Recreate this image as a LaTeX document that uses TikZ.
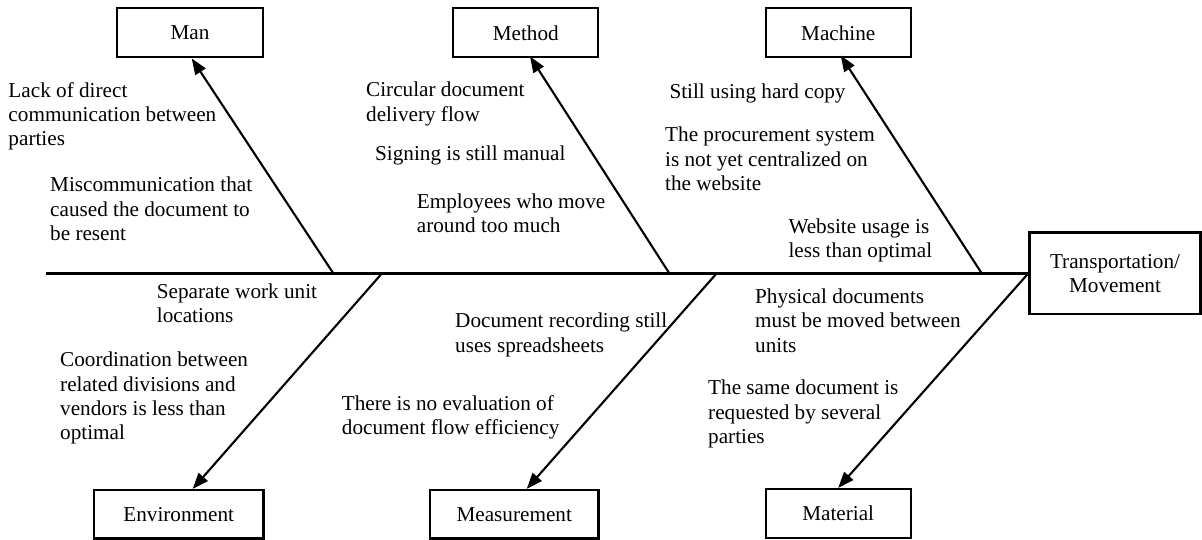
\documentclass[tikz,border=0pt]{standalone}
\usepackage{fontspec}
\setmainfont{Liberation Serif}
\usetikzlibrary{arrows.meta,positioning}
\begin{document}
\begin{tikzpicture}[x=1pt,y=-1pt,
  every node/.style={font=\fontsize{21.2}{24.3}\selectfont},
  cbox/.style={draw,line width=2.3pt,minimum height=49pt,inner sep=0pt,align=center},
  cause/.style={anchor=north west,inner sep=0pt,align=left},
  spine/.style={line width=2.4pt},
  bone/.style={line width=2.1pt,-{Triangle[length=16pt,width=12pt]}}]
\useasboundingbox (0,0) rectangle (1202,539);
% category boxes
\node[cbox,minimum width=145.4pt] (man) at (190,32.8) {Man};
\node[cbox,minimum width=145pt] (method) at (525.8,32.8) {Method};
\node[cbox,minimum width=145.3pt] (machine) at (838.3,32.8) {Machine};
\node[cbox,minimum width=169.3pt,minimum height=48.3pt] (env) at (178.7,514.2) {Environment};
\node[cbox,minimum width=168.3pt,minimum height=48.3pt] (meas) at (514.2,514.2) {Measurement};
\node[cbox,minimum width=145pt] (mat) at (838.2,513.5) {Material};
\node[cbox,minimum width=171pt,minimum height=81.7pt] (trans) at (1115,273.3) {Transportation/\\Movement};
% spine
\coordinate (tail) at (46,273.3);
\draw[spine] (tail) -- (trans.west);
% bone roots on spine
\coordinate (r1) at (333.3,273.3);
\coordinate (r2) at (669.3,273.3);
\coordinate (r3) at (981.7,273.3);
\coordinate (r4) at (382,273.3);
\coordinate (r5) at (716.7,273.3);
% bones
\draw[bone] (r1) -- ([xshift=1.7pt]man.south);
\draw[bone] (r2) -- ([xshift=4.2pt,yshift=2pt]method.south);
\draw[bone] (r3) -- ([xshift=2.4pt,yshift=3pt]machine.south);
\draw[bone] (r4) -- ([xshift=14pt]env.north);
\draw[bone] (r5) -- ([xshift=12.5pt]meas.north);
\draw[bone] (trans.west) -- (mat.north);
% causes
\node[cause] (c1) at (8.3,82) {Lack of direct\\communication between\\parties};
\node[cause] (c2) at (50,177) {Miscommunication that\\caused the document to\\be resent};
\node[cause] (c3) at (366,82) {Circular document\\delivery flow};
\node[cause] (c4) at (375,145.3) {Signing is still manual};
\node[cause] (c5) at (416.7,193.7) {Employees who move\\around too much};
\node[cause] (c6) at (669.3,83.7) {Still using hard copy};
\node[cause] (c7) at (665,127) {The procurement system\\is not yet centralized on\\the website};
\node[cause] (c8) at (788.3,218.7) {Website usage is\\less than optimal};
\node[cause] (c9) at (156.7,283.7) {Separate work unit\\locations};
\node[cause] (c10) at (60,352) {Coordination between\\related divisions and\\vendors is less than\\optimal};
\node[cause] (c11) at (455,313) {Document recording still\\uses spreadsheets};
\node[cause] (c12) at (341.7,395) {There is no evaluation of\\document flow efficiency};
\node[cause] (c13) at (755,288.7) {Physical documents\\must be moved between\\units};
\node[cause] (c14) at (708,380) {The same document is\\requested by several\\parties};
\end{tikzpicture}
\end{document}
